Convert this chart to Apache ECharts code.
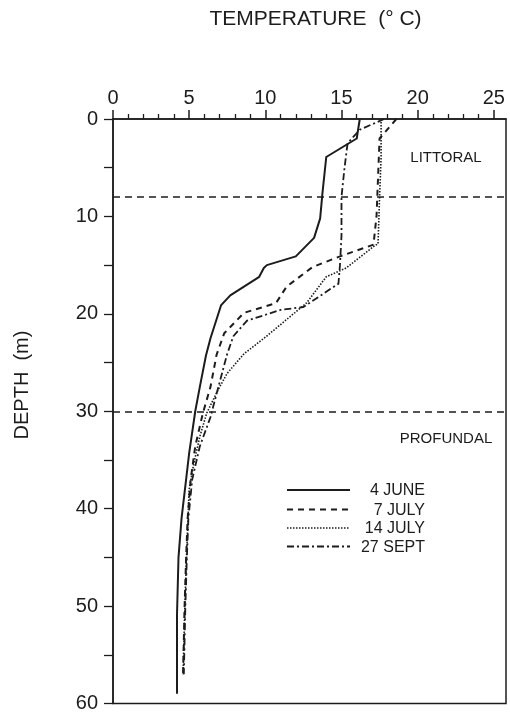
<!DOCTYPE html>
<html><head><meta charset="utf-8">
<script src="https://cdn.jsdelivr.net/npm/echarts@6/dist/echarts.min.js"></script>
<style>html,body{margin:0;padding:0;background:#fff}#c{width:510px;height:718px}</style>
</head><body><div id="c"></div>
<script>
// ---- data ----
const tempMajorTicks = [0, 5, 10, 15, 20, 25];
const tempMinorTicks = [1,2,3,4,6,7,8,9,11,12,13,14,16,17,18,19,21,22,23,24];
const depthTicks = [0, 5, 10, 15, 20, 25, 30, 35, 40, 45, 50, 55, 60];
const depthLabels = [0, 10, 20, 30, 40, 50, 60];
const zoneBoundaries = [8, 30];
const zoneNames = ['LITTORAL', 'PROFUNDAL'];
const seriesNames = ['4 JUNE', '7 JULY', '14 JULY', '27 SEPT'];
// [temperature °C, depth m]
const june4 = [[16.2,0],[16.0,2.0],[14.0,3.9],[13.75,7.6],[13.6,10.2],[13.2,12.2],[12.0,14.1],[10.1,15.0],[9.9,15.3],[9.6,16.2],[7.7,18.1],[7.1,19.1],[6.4,22.5],[6.1,24.3],[5.7,27.5],[5.4,30],[5.0,34.3],[4.8,37],[4.5,41],[4.3,45],[4.2,51],[4.2,59]];
const july7 = [[18.6,0],[18.0,1.1],[17.5,2],[17.4,6],[17.3,10],[17.1,12.9],[14.9,14.1],[13.1,15.2],[11.4,17.2],[10.7,18.9],[8.6,19.9],[7.3,22],[6.8,24.2],[6.4,27.5],[5.9,30.2],[5.4,33.6],[5.1,37],[4.9,41],[4.8,45],[4.7,50],[4.6,57]];
const july14 = [[17.6,0],[17.6,4],[17.5,8],[17.4,12.8],[17.1,13.1],[15.3,15.3],[14.0,16.2],[12.7,18.9],[12.0,19.8],[10.0,22.4],[8.6,24.1],[7.5,26.1],[6.9,27.8],[6.15,30.2],[5.7,32.6],[5.3,35.4],[5.0,38],[4.9,42],[4.8,46],[4.7,51],[4.6,57]];
const sept27 = [[17.8,0],[16.2,1.1],[15.4,2.5],[15.2,5],[15.0,8],[15.0,12],[14.9,15],[14.8,16.9],[12.5,19.3],[11.0,19.6],[8.8,20.7],[7.9,22.3],[7.5,24.1],[6.8,28.2],[6.4,30.6],[5.7,33.6],[5.2,37],[4.95,41],[4.85,45],[4.75,50],[4.65,57]];

// ---- styles ----
const FONT = '"Liberation Sans", Arial, Helvetica, sans-serif';
const INK = '#1c1c1c';
const lineStyles = [
  {width: 2, type: 'solid'},
  {width: 2, type: [6, 5]},
  {width: 1.6, type: [1.5, 1.5]},
  {width: 1.8, type: [7, 3, 2, 3]}
];
const datasets = [june4, july7, july14, sept27];

const chart = echarts.init(document.getElementById('c'), null, {renderer: 'canvas'});

const series = datasets.map((d, i) => ({
  name: seriesNames[i],
  type: 'line',
  data: d,
  showSymbol: false,
  symbol: 'none',
  smooth: false,
  silent: true,
  animation: false,
  lineStyle: Object.assign({color: INK, cap: 'butt', join: 'round'}, lineStyles[i]),
  z: 5
}));
series[0].markLine = {
  silent: true,
  symbol: 'none',
  label: {show: false},
  animation: false,
  lineStyle: {color: INK, type: [7, 5], width: 1.6},
  data: zoneBoundaries.map(v => ({yAxis: v}))
};

// legend drawn as graphic (right-aligned text like the original)
const legendY = [491, 510.5, 529, 547.5];
const legendGraphics = [];
seriesNames.forEach((n, i) => {
  legendGraphics.push({
    type: 'line', silent: true,
    shape: {x1: 287, y1: legendY[i] - 1, x2: 350, y2: legendY[i] - 1},
    style: {stroke: INK, lineWidth: lineStyles[i].width, lineDash: Array.isArray(lineStyles[i].type) ? lineStyles[i].type : null}
  });
  legendGraphics.push({
    type: 'text', silent: true, x: 425, y: legendY[i],
    style: {text: n, font: '16px ' + FONT, fill: INK, textAlign: 'right', textVerticalAlign: 'middle'}
  });
});

const option = {
  backgroundColor: '#fff',
  animation: false,
  grid: {left: 113, top: 119, right: 4, bottom: 14.5, show: true, borderColor: INK, borderWidth: 1.5, backgroundColor: 'transparent'},
  xAxis: [{
    type: 'value', position: 'top', min: 0, max: 25.8,
    axisLine: {show: true, onZero: false, lineStyle: {color: INK, width: 1.5}},
    axisTick: {show: true, inside: false, length: 9, customValues: tempMajorTicks, lineStyle: {color: INK, width: 1.5}},
    axisLabel: {show: true, customValues: tempMajorTicks, margin: 11, fontSize: 20, fontFamily: FONT, color: INK},
    splitLine: {show: false}
  }, {
    type: 'value', position: 'top', min: 0, max: 25.8,
    axisLine: {show: false},
    axisTick: {show: true, inside: false, length: 5, customValues: tempMinorTicks, lineStyle: {color: INK, width: 1.3}},
    axisLabel: {show: false},
    splitLine: {show: false}
  }],
  yAxis: {
    type: 'value', inverse: true, min: 0, max: 60,
    axisLine: {show: true, onZero: false, lineStyle: {color: INK, width: 1.5}},
    axisTick: {show: true, inside: false, length: 9, customValues: depthTicks, lineStyle: {color: INK, width: 1.3}},
    axisLabel: {show: true, customValues: depthLabels, margin: 15, fontSize: 20, fontFamily: FONT, color: INK},
    splitLine: {show: false}
  },
  series: series,
  graphic: [
    {type: 'text', silent: true, x: 315.5, y: 19,
     style: {text: 'TEMPERATURE  (° C)', font: '21px ' + FONT, fill: INK, textAlign: 'center', textVerticalAlign: 'middle'}},
    {type: 'text', silent: true, x: 22, y: 385, rotation: Math.PI / 2,
     style: {text: 'DEPTH  (m)', font: '20px ' + FONT, fill: INK, textAlign: 'center', textVerticalAlign: 'middle'}},
    {type: 'text', silent: true, x: 446, y: 158,
     style: {text: zoneNames[0], font: '15px ' + FONT, fill: INK, textAlign: 'center', textVerticalAlign: 'middle'}},
    {type: 'text', silent: true, x: 446, y: 439,
     style: {text: zoneNames[1], font: '15px ' + FONT, fill: INK, textAlign: 'center', textVerticalAlign: 'middle'}}
  ].concat(legendGraphics)
};
chart.setOption(option);
</script>
</body></html>
